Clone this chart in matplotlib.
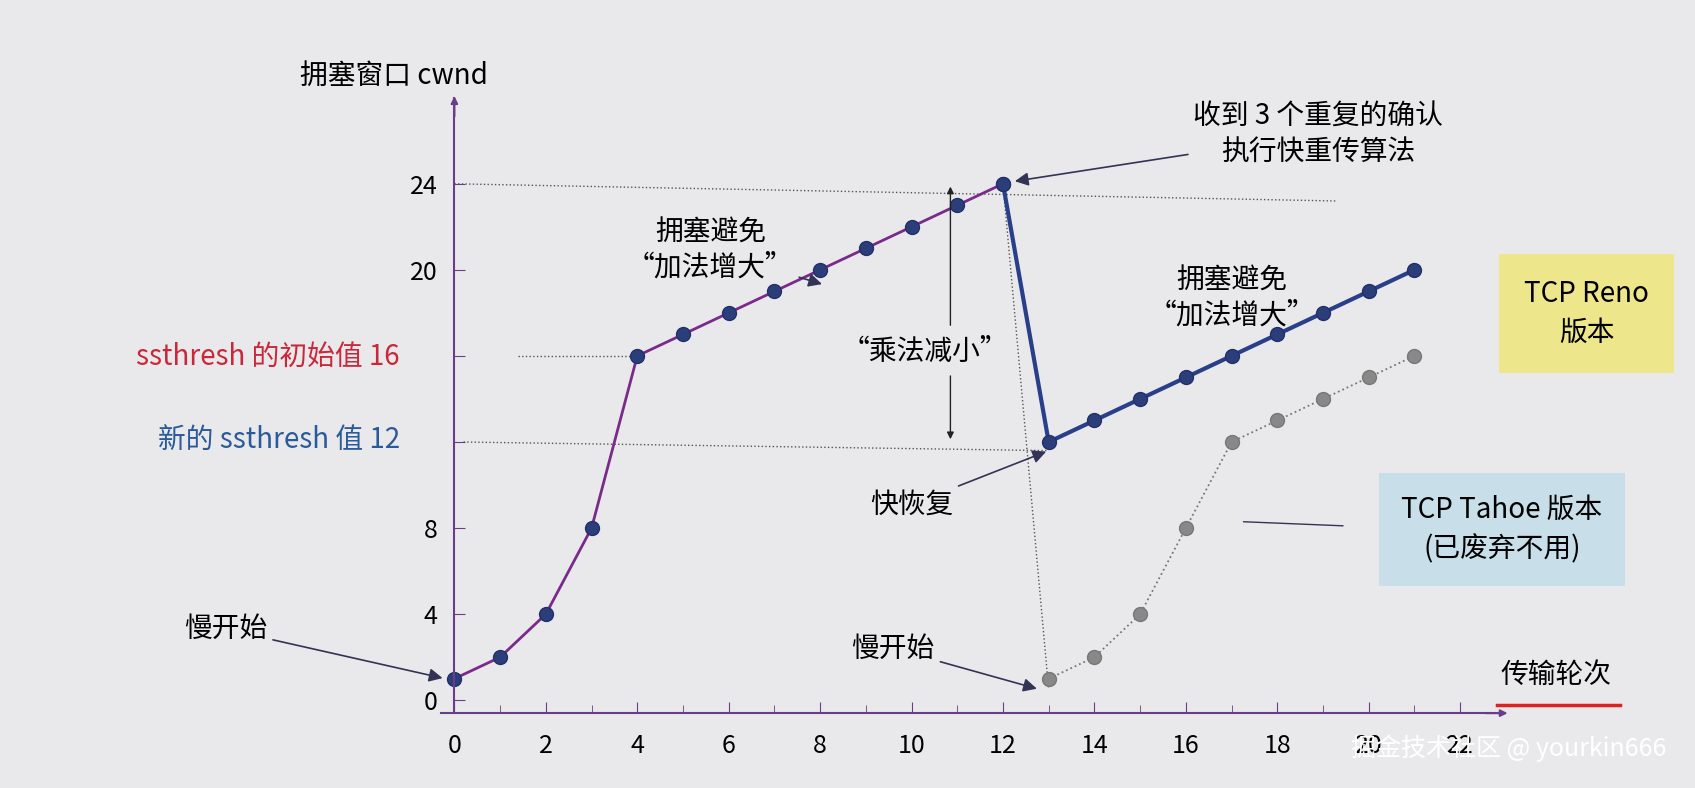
import matplotlib
matplotlib.use("Agg")
import matplotlib.pyplot as plt

plt.rcParams['font.family'] = ['Noto Sans CJK SC', 'DejaVu Sans']

reno_x = [0,1,2,3,4,5,6,7,8,9,10,11,12,13,14,15,16,17,18,19,20,21]
reno_y = [1,2,4,8,16,17,18,19,20,21,22,23,24,12,13,14,15,16,17,18,19,20]
tahoe_x = [13,14,15,16,17,18,19,20,21]
tahoe_y = [1,2,4,8,12,13,14,15,16]
xticks = [0,2,4,6,8,10,12,14,16,18,20,22]
yticks = [0,4,8,12,16,20,24]
ytick_labels = ['0','4','8','','','20','24']

bg = '#e9e9eb'
fig = plt.figure(figsize=(16.95,7.88), dpi=100, facecolor=bg)
ax = fig.add_axes([0.260, 0.095, 0.623, 0.781], facecolor=bg)
ax.set_xlim(-0.3, 22.8)
ax.set_ylim(-0.6, 28)
for s in ['top','right']:
    ax.spines[s].set_visible(False)
for s in ['left','bottom']:
    ax.spines[s].set_color('#6a3d8a'); ax.spines[s].set_linewidth(1.5)
ax.spines['left'].set_position(('data', 0))
ax.spines['bottom'].set_position(('data', -0.6))
ax.annotate('', xy=(0, 28.2), xytext=(0, 27), arrowprops=dict(arrowstyle='-|>', color='#6a3d8a', lw=1.5), annotation_clip=False)
ax.annotate('', xy=(23.1, -0.6), xytext=(22.5, -0.6), arrowprops=dict(arrowstyle='-|>', color='#6a3d8a', lw=1.5), annotation_clip=False)
ax.set_xticks(xticks); ax.set_xticklabels([str(t) for t in xticks], fontsize=18)
ax.set_xticks(range(0,23), minor=True)
ax.set_yticks(yticks); ax.set_yticklabels(ytick_labels, fontsize=18)
ax.tick_params(axis='both', direction='in', length=8, color='#6a3d8a', pad=12)
ax.tick_params(axis='x', which='minor', direction='in', length=6, color='#6a3d8a')
ax.tick_params(axis='x', pad=14)

# reference lines
ax.plot([0,19.3], [24,23.2], ls=':', color='#555', lw=1)
ax.plot([1.4,4], [16,16], ls=':', color='#555', lw=1)
ax.plot([0.2,13], [12,11.6], ls=':', color='#555', lw=1)
ax.plot([12,13], [24,0.5], ls=':', color='#555', lw=1)

# curves
ax.plot(reno_x[:13], reno_y[:13], color='#7a2a8a', lw=2, marker='o', ms=10, mfc='#2c3e7a', mec='#22306a')
ax.plot(reno_x[12:], reno_y[12:], color='#2a3f8a', lw=3, marker='o', ms=10, mfc='#2c3e7a', mec='#22306a')
ax.plot(tahoe_x, tahoe_y, color='#777', lw=1.3, ls=':', marker='o', ms=10, mfc='#888', mec='#777')

# multiplicative decrease arrow
ax.annotate('', xy=(10.85,12), xytext=(10.85,15.2), arrowprops=dict(arrowstyle='-|>', color='#222'))
ax.annotate('', xy=(10.85,24), xytext=(10.85,17.3), arrowprops=dict(arrowstyle='-|>', color='#222'))
ax.text(10.3,16.2, '“乘法减小”', fontsize=20, ha='center', va='center')

ap = dict(arrowstyle='-|>', color='#335', lw=1.2)
ax.annotate('拥塞避免\n“加法增大”', xy=(8.1, 19.3), xytext=(5.6, 20.9), fontsize=20, ha='center', va='center', arrowprops=ap)
ax.annotate('收到 3 个重复的确认\n执行快重传算法', xy=(12.2, 24.1), xytext=(18.9, 26.3), fontsize=20, ha='center', va='center', arrowprops=ap, annotation_clip=False)
ax.text(17.0, 18.7, '拥塞避免\n“加法增大”', fontsize=20, ha='center', va='center')
ax.annotate('快恢复', xy=(13, 11.6), xytext=(10.0, 9.1), fontsize=20, ha='center', va='center', arrowprops=ap)
ax.annotate('慢开始', xy=(-0.2, 1), xytext=(-5.0, 3.3), fontsize=20, ha='center', va='center', arrowprops=ap, annotation_clip=False)
ax.annotate('慢开始', xy=(12.8, 0.5), xytext=(9.6, 2.4), fontsize=20, ha='center', va='center', arrowprops=ap)
ax.annotate('', xy=(17.2, 8.3), xytext=(19.5, 8.1), arrowprops=dict(arrowstyle='-', color='#335'))

ax.text(24.1, 1.2, '传输轮次', fontsize=20, ha='center', va='center', clip_on=False)
ax.plot([22.8,25.5],[-0.2,-0.2], color='#d22', lw=2.5, clip_on=False)

fig.text(0.177, 0.904, '拥塞窗口 cwnd', fontsize=20, ha='left', va='center')
fig.text(0.236, 0.547, 'ssthresh 的初始值 16', fontsize=20, color='#c8283a', ha='right', va='center')
fig.text(0.236, 0.44, '新的 ssthresh 值 12', fontsize=20, color='#2a5a9a', ha='right', va='center')

fig.text(0.936, 0.602, 'TCP Reno\n版本', fontsize=20, ha='center', va='center', linespacing=1.4,
         bbox=dict(boxstyle='square,pad=0.9', fc='#ede68a', ec='none'))
fig.text(0.886, 0.328, 'TCP Tahoe 版本\n(已废弃不用)', fontsize=20, ha='center', va='center', linespacing=1.4,
         bbox=dict(boxstyle='square,pad=0.8', fc='#c8dfe9', ec='none'))
fig.text(0.89, 0.05, '掘金技术社区 @ yourkin666', fontsize=18, color='white', ha='center', va='center')

fig.savefig('out.png', dpi=100, facecolor=bg)
